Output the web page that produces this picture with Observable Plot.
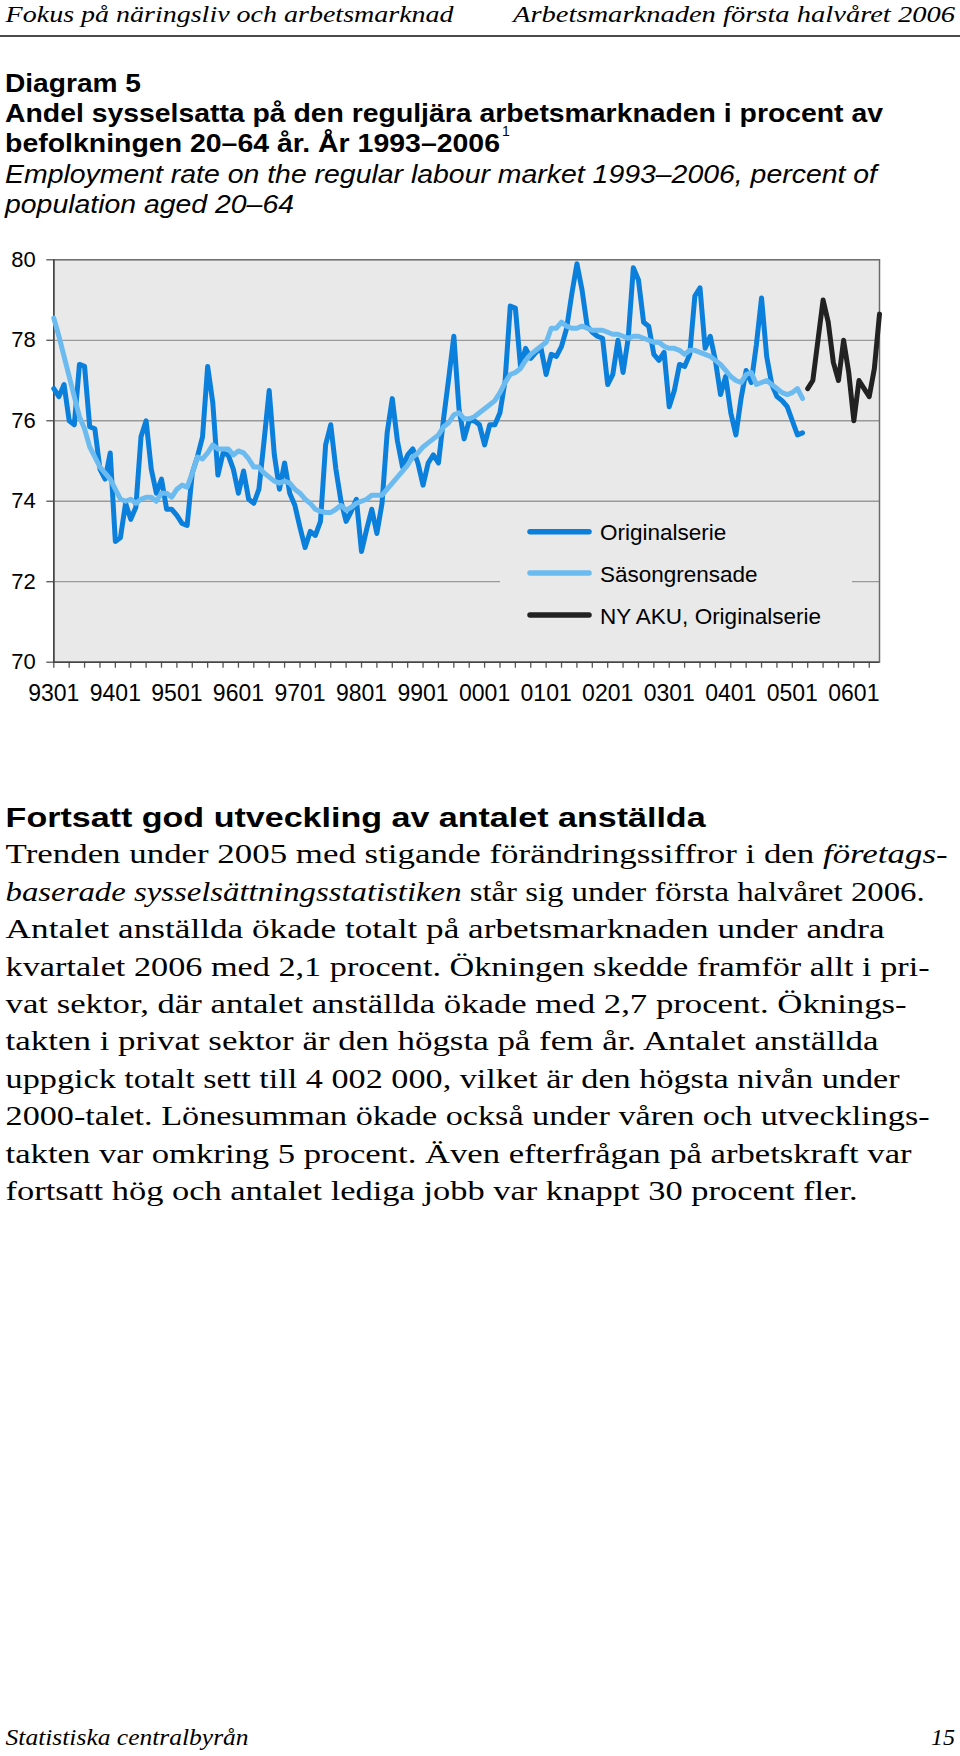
<!DOCTYPE html>
<html>
<head>
<meta charset="utf-8">
<script src="https://cdn.jsdelivr.net/npm/d3@7"></script>
<script src="https://cdn.jsdelivr.net/npm/@observablehq/plot@0.6"></script>
<style>
  html, body { margin: 0; padding: 0; background: #fff; }
  body { width: 960px; height: 1756px; position: relative; overflow: hidden; }
  #chart { position: absolute; left: 0; top: 230px; }
  #page { position: absolute; left: 0; top: 0; pointer-events: none; }
</style>
</head>
<body>
<div id="chart"></div>
<svg id="page" width="960" height="1756" xmlns="http://www.w3.org/2000/svg"></svg>
<script>
// ---------- DATA ----------
// Monthly values, Jan 1993 (index 0) ...
const originalserie = [
  76.8, 76.6, 76.9, 76.0, 75.9, 77.4, 77.35, 75.85, 75.8, 74.8, 74.55, 75.2,
  73.0, 73.1, 73.95, 73.55, 73.85, 75.6, 76.0, 74.8, 74.2, 74.55, 73.8, 73.8,
  73.65, 73.45, 73.4, 74.7, 75.1, 75.6, 77.35, 76.45, 74.65, 75.2, 75.15, 74.8,
  74.2, 74.75, 74.05, 73.95, 74.3, 75.5, 76.75, 75.15, 74.3, 74.95, 74.2, 73.9,
  73.35, 72.85, 73.25, 73.15, 73.5, 75.4, 75.9, 74.8, 74.0, 73.5, 73.75, 74.05,
  72.75, 73.3, 73.8, 73.2, 73.95, 75.7, 76.55, 75.5, 74.85, 75.15, 75.3, 74.95,
  74.4, 74.95, 75.15, 74.95, 76.05, 77.05, 78.1, 76.3, 75.55, 76.0, 76.0, 75.9,
  75.4, 75.9, 75.9, 76.2, 77.0, 78.85, 78.8, 77.35, 77.8, 77.55, 77.7, 77.8,
  77.15, 77.65, 77.6, 77.85, 78.3, 79.15, 79.9, 79.25, 78.35, 78.2, 78.1, 78.05,
  76.9, 77.15, 78.0, 77.2, 78.05, 79.8, 79.5, 78.45, 78.35, 77.65, 77.5, 77.7,
  76.35, 76.75, 77.4, 77.35, 77.65, 79.1, 79.3, 77.8, 78.1, 77.5, 76.65, 77.1,
  76.2, 75.65, 76.55, 77.25, 76.95, 77.9, 79.05, 77.6, 76.9, 76.6, 76.5, 76.35,
  76.0, 75.65, 75.7
];
const sasongrensade = [
  78.55, 78.1, 77.6, 77.1, 76.6, 76.1, 75.8, 75.35, 75.1, 74.85, 74.7, 74.55,
  74.3, 74.05, 74.0, 74.05, 73.95, 74.05, 74.1, 74.1, 74.0, 74.2, 74.2, 74.1,
  74.3, 74.4, 74.35, 74.7, 75.1, 75.05, 75.2, 75.4, 75.3, 75.3, 75.3, 75.15,
  75.25, 75.2, 75.05, 74.85, 74.85, 74.7, 74.6, 74.5, 74.45, 74.5, 74.45, 74.3,
  74.2, 74.05, 73.95, 73.8, 73.75, 73.72, 73.72, 73.8, 73.9, 73.78, 73.85, 73.95,
  74.0, 74.05, 74.15, 74.15, 74.15, 74.3, 74.45, 74.6, 74.75, 74.9, 75.1, 75.2,
  75.35, 75.45, 75.55, 75.65, 75.85, 75.95, 76.15, 76.2, 76.05, 76.05, 76.1, 76.2,
  76.3, 76.4, 76.5, 76.7, 76.95, 77.15, 77.2, 77.3, 77.5, 77.65, 77.75, 77.85,
  77.95, 78.3, 78.3, 78.45, 78.35, 78.3, 78.3, 78.35, 78.3, 78.25, 78.25, 78.25,
  78.2, 78.15, 78.15, 78.1, 78.05, 78.1, 78.1, 78.05, 78.0, 77.95, 77.95, 77.85,
  77.8, 77.8, 77.75, 77.65, 77.75, 77.75, 77.7, 77.65, 77.6, 77.5, 77.4, 77.25,
  77.1, 77.0, 76.95, 77.15, 77.2, 76.9, 76.95, 77.0, 76.9, 76.8, 76.7, 76.65,
  76.7, 76.8, 76.55
];
// NY AKU, Apr 2005 ... Jun 2006 (index 147 ...)
const nyAkuStart = 147;
const nyAku = [76.8, 77.0, 78.0, 79.0, 78.45, 77.45, 77.0, 78.0, 77.2, 76.0, 77.0, 76.8, 76.6, 77.3, 78.65];

const yearLabels = ["9301","9401","9501","9601","9701","9801","9901","0001","0101","0201","0301","0401","0501","0601"];
const yTicks = [70, 72, 74, 76, 78, 80];
const gridValues = [72, 74, 76, 78];
const seriesNames = ["Originalserie", "Säsongrensade", "NY AKU, Originalserie"];
const seriesColors = ["#0a7fdc", "#6cbbf0", "#222222"];
const lastMonth = 161;

// ---------- CHART ----------
const origData = originalserie.map((v, i) => ({m: i, v}));
const saData = sasongrensade.map((v, i) => ({m: i, v}));
const akuData = nyAku.map((v, i) => ({m: nyAkuStart + i, v}));

const chart = Plot.plot({
  width: 960,
  height: 500,
  marginTop: 29.3,
  marginBottom: 68.3,
  marginLeft: 53.3,
  marginRight: 81,
  x: {domain: [0, lastMonth], axis: null, label: null},
  y: {domain: [70, 80], axis: null, label: null},
  style: {fontFamily: "'Liberation Sans', Arial, sans-serif", background: "transparent", color: "#000"},
  marks: [
    Plot.frame({fill: "#e9e9e9"}),
    Plot.ruleY(gridValues, {stroke: "#9a9a9a", strokeWidth: 1.3}),
    Plot.frame({stroke: "#6a6a6a", strokeWidth: 1.5}),
    Plot.axisY({ticks: yTicks, label: null, tickSize: 7, tickPadding: 11, fontSize: 22, fill: "#000", stroke: "#555", strokeWidth: 1.3, tickFormat: d => String(d)}),
    Plot.axisX({ticks: d3.range(0, lastMonth, 3), label: null, tickSize: 6, tickFormat: () => "", stroke: "#555", strokeWidth: 1.3}),
    Plot.axisX({ticks: d3.range(0, yearLabels.length * 12, 12), label: null, tickSize: 0, tickPadding: 22, fontSize: 23, fill: "#000", tickFormat: d => yearLabels[d / 12]}),
    Plot.ruleX([0], {stroke: "#444", strokeWidth: 1.5}),
    Plot.ruleY([70], {stroke: "#444", strokeWidth: 1.5}),
    Plot.line(origData, {x: "m", y: "v", stroke: seriesColors[0], strokeWidth: 5, strokeLinejoin: "round", strokeLinecap: "round"}),
    Plot.line(saData, {x: "m", y: "v", stroke: seriesColors[1], strokeWidth: 5, strokeLinejoin: "round", strokeLinecap: "round"}),
    Plot.line(akuData, {x: "m", y: "v", stroke: seriesColors[2], strokeWidth: 5, strokeLinejoin: "round", strokeLinecap: "round"})
  ]
});
document.getElementById("chart").appendChild(chart);

// ---------- PAGE TEXT ----------
const NS = "http://www.w3.org/2000/svg";
const page = document.getElementById("page");
function el(tag, attrs, parent) {
  const e = document.createElementNS(NS, tag);
  for (const k in attrs) e.setAttribute(k, attrs[k]);
  (parent || page).appendChild(e);
  return e;
}
function text(parts, attrs) {
  const t = el("text", Object.assign({lengthAdjust: "spacingAndGlyphs"}, attrs));
  for (const p of parts) {
    const s = el("tspan", p.italic ? {"font-style": "italic"} : {}, t);
    s.textContent = p.s;
  }
  return t;
}
const SERIF = "'Liberation Serif', 'Times New Roman', serif";
const SANS = "'Liberation Sans', Arial, sans-serif";

// running header
text([{s: "Fokus på näringsliv och arbetsmarknad"}], {x: 5.6, y: 22, "font-family": SERIF, "font-style": "italic", "font-size": 24, textLength: 448});
text([{s: "Arbetsmarknaden första halvåret 2006"}], {x: 513, y: 22, "font-family": SERIF, "font-style": "italic", "font-size": 24, textLength: 442});
el("line", {x1: 0, x2: 960, y1: 36, y2: 36, stroke: "#111", "stroke-width": 1.5});

// title block
const titleLines = [
  {s: "Diagram 5", y: 91.5, w: 136, bold: true},
  {s: "Andel sysselsatta på den reguljära arbetsmarknaden i procent av", y: 121.5, w: 878, bold: true},
  {s: "befolkningen 20–64 år. År 1993–2006", y: 151.5, w: 495, bold: true},
  {s: "Employment rate on the regular labour market 1993–2006, percent of", y: 183, w: 872, italic: true},
  {s: "population aged 20–64", y: 213, w: 289, italic: true}
];
for (const l of titleLines) {
  text([{s: l.s}], {x: 5, y: l.y, "font-family": SANS, "font-size": 25,
    "font-weight": l.bold ? "bold" : "normal", "font-style": l.italic ? "italic" : "normal", textLength: l.w});
}
text([{s: "1"}], {x: 502, y: 136, "font-family": SANS, "font-size": 14});

// legend (inside plot area)
el("rect", {x: 500, y: 506, width: 352, height: 150, fill: "#e9e9e9"});
const legendY = [531.7, 573, 615];
seriesNames.forEach((name, i) => {
  el("line", {x1: 530, x2: 589, y1: legendY[i], y2: legendY[i], stroke: seriesColors[i], "stroke-width": 5.5, "stroke-linecap": "round"});
  const t = el("text", {x: 600, y: legendY[i] + 8.5, "font-family": SANS, "font-size": 22.5, fill: "#000"});
  t.textContent = name;
});

// body heading
text([{s: "Fortsatt god utveckling av antalet anställda"}], {x: 5.6, y: 826.5, "font-family": SANS, "font-weight": "bold", "font-size": 27, textLength: 700});

// body text
const bodyLines = [
  {parts: [{s: "Trenden under 2005 med stigande förändringssiffror i den "}, {s: "företags-", italic: true}], w: 942},
  {parts: [{s: "baserade sysselsättningsstatistiken", italic: true}, {s: " står sig under första halvåret 2006."}], w: 919},
  {parts: [{s: "Antalet anställda ökade totalt på arbetsmarknaden under andra"}], w: 879},
  {parts: [{s: "kvartalet 2006 med 2,1 procent. Ökningen skedde framför allt i pri-"}], w: 924},
  {parts: [{s: "vat sektor, där antalet anställda ökade med 2,7 procent. Öknings-"}], w: 901},
  {parts: [{s: "takten i privat sektor är den högsta på fem år. Antalet anställda"}], w: 873},
  {parts: [{s: "uppgick totalt sett till 4 002 000, vilket är den högsta nivån under"}], w: 894},
  {parts: [{s: "2000-talet. Lönesumman ökade också under våren och utvecklings-"}], w: 924},
  {parts: [{s: "takten var omkring 5 procent. Även efterfrågan på arbetskraft var"}], w: 906},
  {parts: [{s: "fortsatt hög och antalet lediga jobb var knappt 30 procent fler."}], w: 852}
];
bodyLines.forEach((l, i) => {
  text(l.parts, {x: 5.6, y: 863.3 + 37.4 * i, "font-family": SERIF, "font-size": 27, textLength: l.w});
});

// footer
text([{s: "Statistiska centralbyrån"}], {x: 5.6, y: 1745, "font-family": SERIF, "font-style": "italic", "font-size": 24, textLength: 243});
text([{s: "15"}], {x: 931, y: 1745, "font-family": SERIF, "font-style": "italic", "font-size": 24, textLength: 24});
</script>
</body>
</html>
